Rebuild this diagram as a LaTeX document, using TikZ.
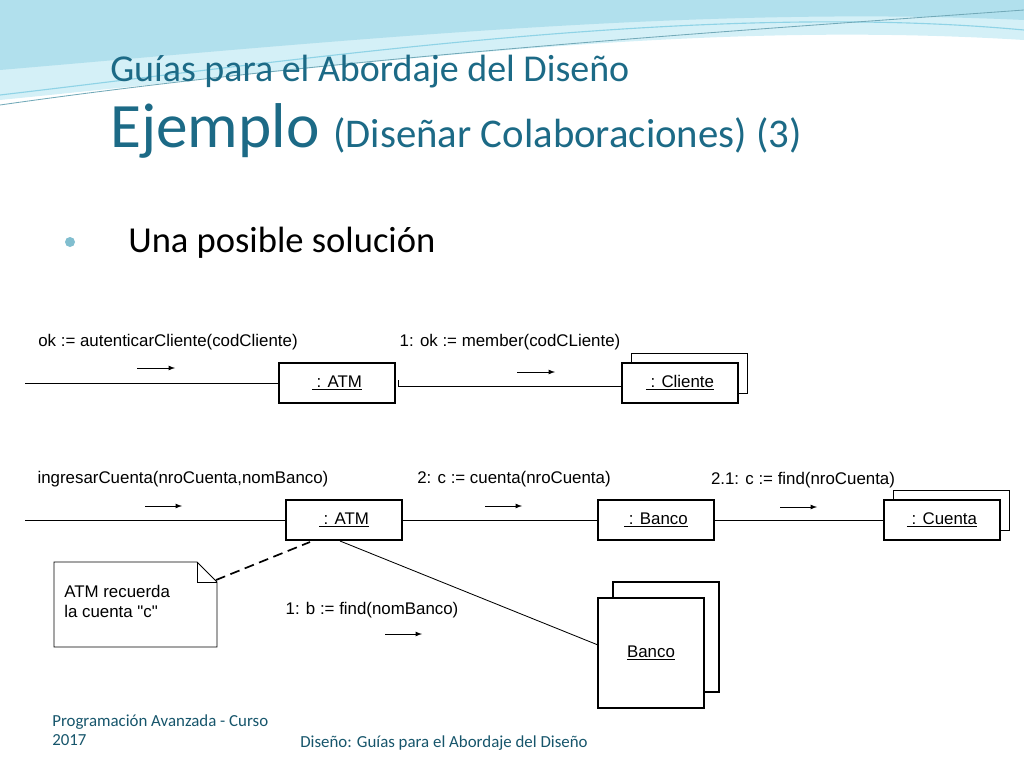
\documentclass[tikz,border=0pt]{standalone}
\usepackage{fontspec}
\setmainfont{Carlito}
\newfontfamily\arial{Liberation Sans}
\usetikzlibrary{positioning,arrows}
\definecolor{titleteal}{HTML}{1C6A86}
\definecolor{wave}{HTML}{8FD3E6}
\definecolor{wavelight}{HTML}{D4F0F7}
\begin{document}
\begin{tikzpicture}[x=0.025cm,y=-0.025cm]
    \tikzstyle{obj}=[draw, fill=white, thick, minimum width=2.9cm, minimum height=1cm, font=\arial\fontsize{12}{14}\selectfont]
    \tikzstyle{lbl}=[font=\arial\fontsize{12}{14}\selectfont, inner sep=0mm]
    \tikzstyle{msg}=[semithick,-latex]
    \tikzstyle{link}=[semithick]
    \def\sh{7pt}

    \useasboundingbox (0,0) rectangle (1024,768);

    % header waves
    \fill[wavelight] (0,0) -- (1024,0) -- (1024,40) .. controls (700,20) and (400,60) .. (0,100) -- cycle;
    \fill[wave!70] (0,0) -- (1024,0) -- (1024,20) .. controls (700,5) and (350,40) .. (0,70) -- cycle;
    \draw[wave, thick] (0,95) .. controls (300,60) and (700,0) .. (1024,30);
    \draw[wave!80!black, semithick] (0,105) .. controls (350,55) and (750,30) .. (1024,10);

    % titles
    \node[anchor=base west, inner sep=0, text=titleteal, font=\fontsize{27}{30}\selectfont] (title) at (110,82) {Guías para el Abordaje del Diseño};
    \node[anchor=base west, inner sep=0, text=titleteal] (sub) at (110,148) {{\fontsize{45}{46}\selectfont Ejemplo}\hspace{0.35cm}{\fontsize{29}{32}\selectfont (Diseñar Colaboraciones) (3)}};
    \fill[wave!90!black] (70,242) circle (5);
    \node[anchor=base west, inner sep=0, font=\fontsize{26}{30}\selectfont] (bullet) at (128,252) {Una posible solución};

    % first row
    \coordinate (in1) at (25,383);
    \node[obj] (atm1) at (337,383) {\underline{\ : ATM}};
    \node[obj, xshift=\sh, yshift=\sh] (cli2) at (680,383) {};
    \node[obj] (cli) at (680,383) {\underline{\ : Cliente}};
    \draw[link] (in1) -- (atm1);
    \coordinate (t1) at (398,386);
    \draw[link] (398,380) -- (t1) -- (t1 -| cli.west);
    \node[lbl] (m1) at (168,342) {ok := autenticarCliente(codCliente)};
    \draw[msg] (137,368) -- (175,368);
    \node[lbl] (m2) at (510,342) {1: ok := member(codCLiente)};
    \draw[msg] (517,372) -- (555,372);

    % second row
    \coordinate (in2) at (25,520);
    \node[obj] (atm2) at (344,520) {\underline{\ : ATM}};
    \node[obj] (banco) at (656,520) {\underline{\ : Banco}};
    \node[obj, xshift=\sh, yshift=\sh] (cta2) at (942,520) {};
    \node[obj] (cta) at (942,520) {\underline{\ : Cuenta}};
    \draw[link] (in2) -- (atm2);
    \draw[link] (atm2) -- (banco);
    \draw[link] (banco) -- (cta);
    \node[lbl] (m3) at (183,479) {ingresarCuenta(nroCuenta,nomBanco)};
    \draw[msg] (145,506) -- (182,506);
    \node[lbl] (m4) at (514,479) {2: c := cuenta(nroCuenta)};
    \draw[msg] (485,506) -- (522,506);
    \node[lbl] (m5) at (803,480) {2.1: c := find(nroCuenta)};
    \draw[msg] (780,507) -- (817,507);

    % multiobject Banco
    \node[obj, minimum width=2.65cm, minimum height=2.75cm] (bk2) at (666,637) {};
    \node[obj, minimum width=2.65cm, minimum height=2.75cm] (bk) at (651,653) {\underline{Banco}};
    \coordinate (t2) at (340,541);
    \coordinate (t3) at (598,645);
    \draw[link] (t2) -- (t3);
    \node[lbl] (m6) at (372,610) {1: b := find(nomBanco)};
    \draw[msg] (385,634) -- (422,634);

    % note
    \draw[semithick, fill=white] (54,562) -- (197,562) -- (217,582) -- (217,647) -- (54,647) -- cycle;
    \draw[semithick] (197,562) -- (197,582) -- (217,582);
    \node[lbl, anchor=north west, align=left] (note) at (64,585) {ATM recuerda\\la cuenta "c"};
    \draw[very thick, dash pattern=on 7pt off 4pt] (216,580) -- (310,542);

    % footer
    \node[anchor=north west, align=left, inner sep=0, text=titleteal!80!black, font=\fontsize{12}{14}\selectfont] (foot1) at (52,714) {Programación Avanzada - Curso\\2017};
    \node[anchor=north west, inner sep=0, text=titleteal!80!black, font=\fontsize{12}{14}\selectfont] (foot2) at (300,735) {Diseño: Guías para el Abordaje del Diseño};
\end{tikzpicture}
\end{document}
